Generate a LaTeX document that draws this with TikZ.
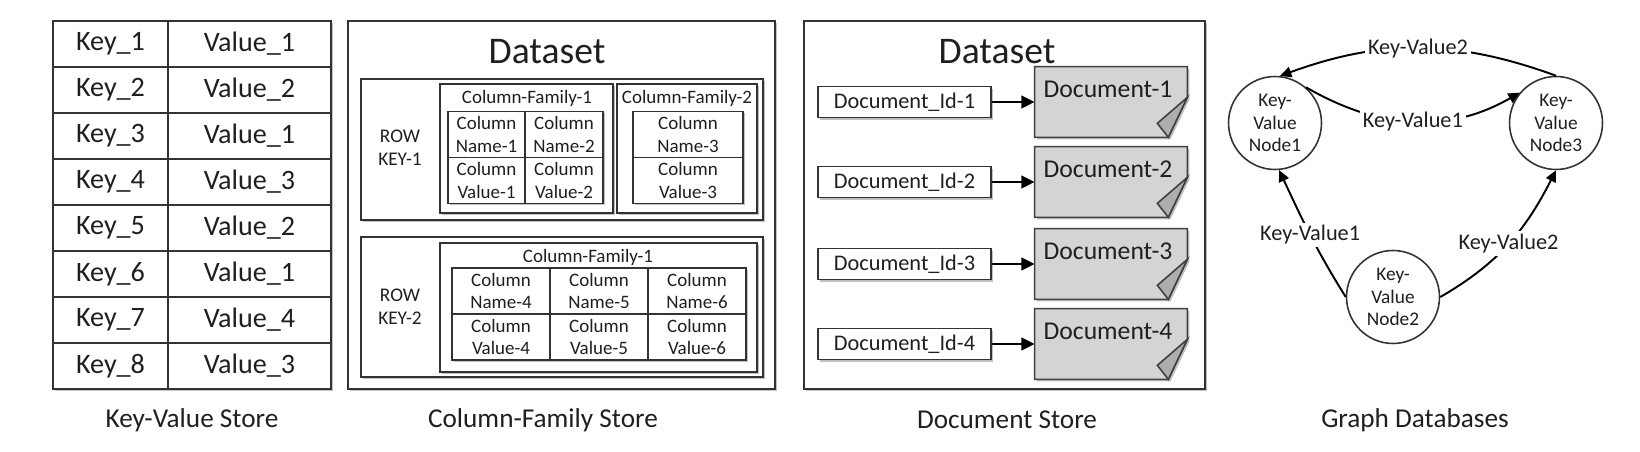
\documentclass[tikz,border=0pt]{standalone}
\usepackage{fontspec}
\setmainfont{Carlito}
\usetikzlibrary{arrows.meta,shadows}

\begin{document}
\begin{tikzpicture}[x=0.02cm, y=-0.02cm,
  every node/.style={text=black!88},
  boxshadow/.style={drop shadow={shadow xshift=1.2pt, shadow yshift=-1.2pt, fill=black!40, opacity=.6}},
  panel/.style={draw=black!80, line width=0.9pt, fill=white, boxshadow},
  kvcell/.style={draw=black!80, line width=0.9pt, fill=white, minimum height=0.92cm, inner sep=0pt, font=\fontsize{16}{19}\selectfont},
  cfcell/.style={draw=black!80, line width=0.9pt, fill=white, minimum height=0.92cm, inner sep=0pt, align=center, font=\fontsize{10.8}{12.6}\selectfont},
  cflabel/.style={font=\fontsize{10.8}{12.6}\selectfont, inner sep=0pt},
  rowkey/.style={align=center, font=\fontsize{11}{13}\selectfont},
  title/.style={font=\fontsize{21.4}{24}\selectfont},
  caption/.style={font=\fontsize{15.5}{18}\selectfont},
  idbox/.style={draw=black!80, line width=0.9pt, fill=white, boxshadow, minimum width=3.46cm, minimum height=0.62cm, inner sep=0pt, font=\fontsize{12.7}{15}\selectfont},
  docbox/.style={minimum width=3.04cm, minimum height=1.4cm, inner sep=0pt},
  docfill/.style={draw=black!75, line width=0.9pt, fill=black!17, boxshadow},
  foldfill/.style={draw=black!75, line width=0.9pt, fill=black!32},
  doctext/.style={font=\fontsize{14.6}{17}\selectfont},
  docarrow/.style={line width=1.7pt, -{Triangle[length=7.5pt,width=7pt]}},
  gnode/.style={circle, draw=black!80, line width=0.9pt, fill=white, minimum size=1.86cm, inner sep=0pt, align=center, font=\fontsize{11}{13}\selectfont},
  gedge/.style={line width=1.1pt, -{Triangle[length=6.5pt,width=6pt]}},
  elabel/.style={fill=white, inner sep=1.5pt, font=\fontsize{12.7}{15}\selectfont}]
  \useasboundingbox (0,0) rectangle (1640,452);

  % key-value store
  \path[boxshadow] (53,21) rectangle (331,389);
  \foreach \i/\v in {1/1, 2/2, 3/1, 4/3, 5/2, 6/1, 7/4, 8/3} {
    \node[kvcell, minimum width=2.3cm] (key\i) at (110.5, {44+46*(\i-1)}) {Key\_\i};
    \node[kvcell, minimum width=3.26cm] (val\i) at (249.5, {44+46*(\i-1)}) {Value\_\v};
  }
  \node[caption] (kvcap) at (192,420) {Key-Value Store};

  % column-family store
  \draw[panel] (348,21) rectangle (775,389);
  \node[title] (cftitle) at (547,52) {Dataset};
  \draw[panel] (361,79) rectangle (763,220);
  \draw[panel] (440,84) rectangle (613,213);
  \draw[panel] (617,84) rectangle (757,213);
  \node[rowkey] (rk1) at (400,148) {ROW\\KEY-1};
  \node[cflabel] (cf1a) at (527,98) {Column-Family-1};
  \node[cflabel] (cf2a) at (687,98) {Column-Family-2};
  \path[boxshadow] (448,111) rectangle (603,203);
  \path[boxshadow] (633,111) rectangle (743,203);
  \foreach \n/\x in {1/486.5, 2/564} {
    \node[cfcell, minimum width=1.55cm] (cn\n) at (\x,134.5) {Column\\Name-\n};
    \node[cfcell, minimum width=1.55cm] (cv\n) at (\x,180.5) {Column\\Value-\n};
  }
  \node[cfcell, minimum width=2.2cm] (cn3) at (688,134.5) {Column\\Name-3};
  \node[cfcell, minimum width=2.2cm] (cv3) at (688,180.5) {Column\\Value-3};

  \draw[panel] (361,237) rectangle (763,377);
  \draw[panel] (440,243) rectangle (757,372);
  \node[rowkey] (rk2) at (400,307) {ROW\\KEY-2};
  \node[cflabel] (cf1b) at (588,257) {Column-Family-1};
  \path[boxshadow] (452,268) rectangle (746,360);
  \foreach \n/\x in {4/501, 5/599, 6/697} {
    \node[cfcell, minimum width=1.96cm] (cn\n) at (\x,291) {Column\\Name-\n};
    \node[cfcell, minimum width=1.96cm] (cv\n) at (\x,337) {Column\\Value-\n};
  }
  \node[caption] (cfcap) at (543,420) {Column-Family Store};

  % document store
  \draw[panel] (804,21) rectangle (1205,389);
  \node[title] (doctitle) at (997,52) {Dataset};
  \foreach \i/\y in {1/102, 2/182, 3/264, 4/344} {
    \node[idbox] (id\i) at (904.5,\y) {Document\_Id-\i};
    \node[docbox] (doc\i) at (1111,\y) {};
    \filldraw[docfill] (doc\i.north west) -- (doc\i.north east) -- ([yshift=0.8cm]doc\i.south east)
      -- ([xshift=-0.38cm]doc\i.south east) -- (doc\i.south west) -- cycle;
    \filldraw[foldfill] ([yshift=0.8cm]doc\i.south east) -- ([xshift=-0.6cm,yshift=0.28cm]doc\i.south east)
      -- ([xshift=-0.38cm]doc\i.south east) -- cycle;
    \node[doctext] (dt\i) at ([xshift=-0.06cm,yshift=-0.46cm]doc\i.north) {Document-\i};
    \draw[docarrow] (id\i) -- (doc\i);
  }
  \node[caption] (doccap) at (1007,420) {Document Store};

  % graph database
  \node[gnode] (n1) at (1275,123) {Key-\\Value\\Node1};
  \node[gnode] (n3) at (1556,123) {Key-\\Value\\Node3};
  \node[gnode] (n2) at (1393,297) {Key-\\Value\\Node2};
  \draw[gedge] (n3.north) to[out=160, in=20] node[elabel] {Key-Value2} (n1.84);
  \draw[gedge] (n1.49) to[out=-30, in=210] node[elabel] {Key-Value1} (n3.140);
  \draw[gedge] (n2.west) to[out=122, in=-65] node[elabel] {Key-Value1} (n1.-85);
  \draw[gedge] (n2.east) to[out=30, in=-117] node[elabel] {Key-Value2} (n3.south);
  \node[caption] (gcap) at (1415,420) {Graph Databases};
\end{tikzpicture}
\end{document}
